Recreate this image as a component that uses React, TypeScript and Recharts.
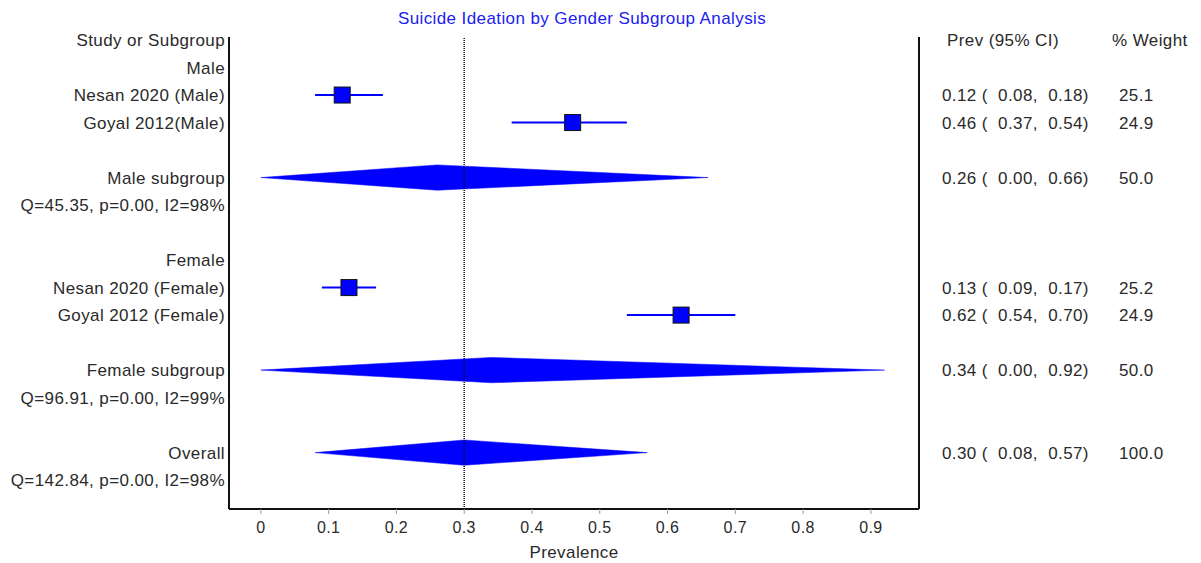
import {
  ComposedChart,
  Line,
  Area,
  Scatter,
  XAxis,
  YAxis,
  ReferenceLine,
} from 'recharts'

// left column labels, one per row (row index = position from the top)
const rowLabels = [
  'Study or Subgroup',
  'Male',
  'Nesan 2020 (Male)',
  'Goyal 2012(Male)',
  '',
  'Male subgroup',
  'Q=45.35, p=0.00, I2=98%',
  '',
  'Female',
  'Nesan 2020 (Female)',
  'Goyal 2012 (Female)',
  '',
  'Female subgroup',
  'Q=96.91, p=0.00, I2=99%',
  '',
  'Overall',
  'Q=142.84, p=0.00, I2=98%',
]

// individual studies
const studyRows = [2, 3, 9, 10]
const studyPrev = [0.12, 0.46, 0.13, 0.62]
const studyLow = [0.08, 0.37, 0.09, 0.54]
const studyHigh = [0.18, 0.54, 0.17, 0.7]
const studyWeight = [25.1, 24.9, 25.2, 24.9]

// pooled estimates (subgroups + overall)
const pooledRows = [5, 12, 15]
const pooledPrev = [0.26, 0.34, 0.3]
const pooledLow = [0.0, 0.0, 0.08]
const pooledHigh = [0.66, 0.92, 0.57]
const pooledWeight = [50.0, 50.0, 100.0]

const xTicks = [0, 0.1, 0.2, 0.3, 0.4, 0.5, 0.6, 0.7, 0.8, 0.9]

const BLUE = '#0000ff'
const TEXT = '#2a2a2a'
const FONT = '"Liberation Sans", Arial, sans-serif'
const DIAMOND_HALF = 0.46

const fmt = (v: number) => v.toFixed(2)

// right column text per row
const rightCols: { [row: number]: [string, string] } = { 0: ['Prev (95% CI)', '% Weight'] }
studyRows.forEach((r, i) => {
  rightCols[r] = [`${fmt(studyPrev[i])} (  ${fmt(studyLow[i])},  ${fmt(studyHigh[i])})`, studyWeight[i].toFixed(1)]
})
pooledRows.forEach((r, i) => {
  rightCols[r] = [`${fmt(pooledPrev[i])} (  ${fmt(pooledLow[i])},  ${fmt(pooledHigh[i])})`, pooledWeight[i].toFixed(1)]
})

const labelTicks = rowLabels.map((l, i) => (l ? i : -1)).filter((i) => i >= 0)
const rightTicks = Object.keys(rightCols).map(Number)

const squares = studyRows.map((r, i) => ({ x: studyPrev[i], y: r }))
const overallPrev = pooledPrev[pooledPrev.length - 1]

const RightTick = (props: any) => {
  const { x, y, payload } = props
  const cols = rightCols[payload.value]
  if (!cols) return null
  const header = payload.value === 0
  return (
    <g>
      <text x={x + (header ? 28 : 23)} y={y} dy="0.355em" fill={TEXT} fontSize={17} fontFamily={FONT} letterSpacing={0.4} style={{ whiteSpace: 'pre' }}>
        {cols[0]}
      </text>
      <text x={x + (header ? 193 : 200)} y={y} dy="0.355em" fill={TEXT} fontSize={17} fontFamily={FONT} letterSpacing={0.4}>
        {cols[1]}
      </text>
    </g>
  )
}

const SquareShape = (props: any) => {
  const { cx, cy } = props
  const s = 16
  return <rect x={cx - s / 2} y={cy - s / 2} width={s} height={s} fill={BLUE} stroke="#111" strokeWidth={1} />
}

export default function App() {
  return (
    <div style={{ position: 'absolute', left: 0, top: 0, width: 1201, height: 563, background: '#fff' }}>
      <div
        style={{
          position: 'absolute',
          left: 282,
          width: 600,
          top: 9,
          textAlign: 'center',
          color: '#2020f0',
          fontSize: 17,
          letterSpacing: 0.4,
          fontFamily: FONT,
        }}
      >
        Suicide Ideation by Gender Subgroup Analysis
      </div>
      <ComposedChart width={1201} height={563} margin={{ top: 37, right: 10, bottom: 0, left: 8 }}>
        <XAxis
          type="number"
          dataKey="x"
          domain={[-0.047, 0.971]}
          allowDataOverflow
          ticks={xTicks}
          tickFormatter={(v: number) => String(Math.round(v * 10) / 10)}
          height={54}
          axisLine={{ stroke: '#111', strokeWidth: 2 }}
          tickLine={{ stroke: '#999' }}
          tickSize={5}
          tickMargin={8}
          tick={{ fill: TEXT, fontSize: 16, fontFamily: FONT, letterSpacing: 0.4 }}
          label={{ value: 'Prevalence', position: 'insideBottom', offset: 5, fill: TEXT, fontSize: 17, fontFamily: FONT, letterSpacing: 0.4 }}
        />
        <YAxis
          yAxisId="left"
          type="number"
          dataKey="y"
          domain={[-0.11, 17.05]}
          reversed
          allowDataOverflow
          ticks={labelTicks}
          interval={0}
          tickFormatter={(v: number) => rowLabels[v] || ''}
          width={221}
          axisLine={{ stroke: '#111', strokeWidth: 2 }}
          tickLine={false}
          tickSize={0}
          tickMargin={4}
          tick={{ fill: TEXT, fontSize: 17, fontFamily: FONT, letterSpacing: 0.4 }}
        />
        <YAxis
          yAxisId="right"
          orientation="right"
          type="number"
          domain={[-0.11, 17.05]}
          reversed
          allowDataOverflow
          ticks={rightTicks}
          interval={0}
          width={272}
          axisLine={{ stroke: '#111', strokeWidth: 2 }}
          tickLine={false}
          tickSize={0}
          tickMargin={0}
          tick={<RightTick />}
        />

        {pooledRows.map((r, i) => (
          <Area
            key={`d${i}`}
            yAxisId="left"
            data={[
              { x: pooledLow[i], band: [r, r] },
              { x: pooledPrev[i], band: [r - DIAMOND_HALF, r + DIAMOND_HALF] },
              { x: pooledHigh[i], band: [r, r] },
            ]}
            dataKey="band"
            type="linear"
            fill={BLUE}
            fillOpacity={1}
            stroke={BLUE}
            strokeWidth={0.5}
            dot={false}
            activeDot={false}
            isAnimationActive={false}
          />
        ))}

        {studyRows.map((r, i) => (
          <Line
            key={`ci${i}`}
            yAxisId="left"
            data={[
              { x: studyLow[i], y: r },
              { x: studyHigh[i], y: r },
            ]}
            dataKey="y"
            type="linear"
            stroke={BLUE}
            strokeWidth={2}
            dot={false}
            activeDot={false}
            isAnimationActive={false}
          />
        ))}

        <ReferenceLine yAxisId="left" x={overallPrev} stroke="#111" strokeWidth={1.5} strokeDasharray="1 1" />

        <Scatter yAxisId="left" data={squares} dataKey="y" shape={<SquareShape />} isAnimationActive={false} />
      </ComposedChart>
    </div>
  )
}
